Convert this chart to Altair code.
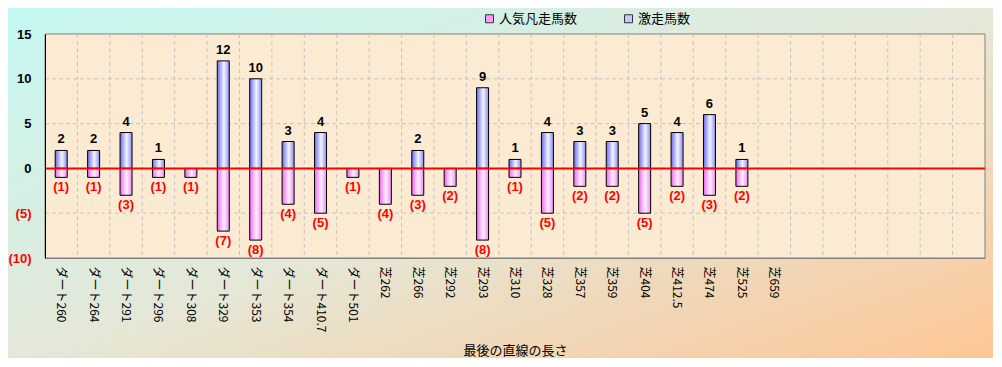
import altair as alt
import pandas as pd

categories = ["ダート260", "ダート264", "ダート291", "ダート296", "ダート308", "ダート329",
              "ダート353", "ダート354", "ダート410.7", "ダート501", "芝262", "芝266",
              "芝292", "芝293", "芝310", "芝328", "芝357", "芝359", "芝404", "芝412.5",
              "芝474", "芝525", "芝659"]
blank_slots = [" " * (i + 1) for i in range(6)]
gekiso = [2, 2, 4, 1, 0, 12, 10, 3, 4, 0, 0, 2, 0, 9, 1, 4, 3, 3, 5, 4, 6, 1, 0]
bonso = [1, 1, 3, 1, 1, 7, 8, 4, 5, 1, 4, 3, 2, 8, 1, 5, 2, 2, 5, 2, 3, 2, 0]
series_names = ["人気凡走馬数", "激走馬数"]
y_ticks = [-10, -5, 0, 5, 10, 15]
grid_y = [-5, 5, 10]

all_cats = categories + blank_slots
df = pd.DataFrame({"cat": categories, "gekiso": gekiso, "bonso": bonso})
df["neg"] = -df["bonso"]
grid_df = pd.DataFrame({"cat": all_cats[1:]})
gridy_df = pd.DataFrame({"v": grid_y})
legend_df = pd.DataFrame({"series": series_names})
one = pd.DataFrame({"a": [0]})

W, H = 940, 224
FONT = "Liberation Sans"
JFONT = "Noto Sans CJK JP"

xscale = alt.Scale(domain=all_cats, paddingInner=0, paddingOuter=0)
yscale = alt.Scale(domain=[-10, 15], nice=False, zero=False)

xaxis = alt.Axis(title="最後の直線の長さ", labelAngle=90, labelFont=JFONT,
                 labelFontSize=12, labelColor="black", labelPadding=8,
                 ticks=False, domainColor="#808080", titleFont=JFONT,
                 titleFontSize=13, titleFontWeight="normal", titleColor="black",
                 titleY=86, zindex=1, grid=False, labelOverlap=False)
yaxis = alt.Axis(values=y_ticks, title=None, ticks=False, labelPadding=14,
                 labelFont=FONT, labelFontSize=13, labelFontWeight="bold",
                 labelColor=alt.expr("datum.value < 0 ? '#FF0000' : 'black'"),
                 labelExpr="datum.value < 0 ? '(' + (-datum.value) + ')' : datum.value",
                 domainColor="black", grid=False, zindex=1)


def X(field):
    return alt.X(field, scale=xscale, sort=all_cats, axis=xaxis)


def Y(field):
    return alt.Y(field, scale=yscale, axis=yaxis)


bg = alt.Chart(one).mark_rect(
    fill=alt.Gradient(gradient="linear", x1=0, y1=0, x2=1, y2=1,
                      stops=[alt.GradientStop(color="#C4F8F2", offset=0),
                             alt.GradientStop(color="#E4E8D8", offset=0.5),
                             alt.GradientStop(color="#FDC696", offset=1)])
).encode(x=alt.value(-37), x2=alt.value(W + 8), y=alt.value(-26), y2=alt.value(H + 100))

plot_bg = alt.Chart(one).mark_rect(fill="#FBEBD2", stroke="#808080", strokeWidth=1).encode(
    x=alt.value(0), x2=alt.value(W), y=alt.value(0), y2=alt.value(H))

vgrid = alt.Chart(grid_df).mark_rule(color="#C4C4C4", strokeDash=[4, 3], strokeWidth=1).encode(
    x=alt.X("cat:N", scale=xscale, sort=all_cats, axis=xaxis, bandPosition=0),
    y=alt.value(0), y2=alt.value(H))

hgrid = alt.Chart(gridy_df).mark_rule(color="#C4C4C4", strokeDash=[4, 3], strokeWidth=1).encode(
    y=Y("v:Q"), x=alt.value(0), x2=alt.value(W))

blue_grad = alt.Gradient(gradient="linear", x1=0, y1=0, x2=1, y2=0,
                         stops=[alt.GradientStop(color="#6A6AEE", offset=0),
                                alt.GradientStop(color="#F4F4FF", offset=0.55),
                                alt.GradientStop(color="#8C8CF2", offset=1)])
pink_grad = alt.Gradient(gradient="linear", x1=0, y1=0, x2=1, y2=0,
                         stops=[alt.GradientStop(color="#EE66EE", offset=0),
                                alt.GradientStop(color="#FFF0FF", offset=0.55),
                                alt.GradientStop(color="#F288F2", offset=1)])

blue = alt.Chart(df).transform_filter("datum.gekiso > 0").mark_bar(
    size=12, fill=blue_grad, stroke="black", strokeWidth=1).encode(
    x=X("cat:N"), y=Y("gekiso:Q"), y2=alt.datum(0))

pink = alt.Chart(df).transform_filter("datum.bonso > 0").mark_bar(
    size=12, fill=pink_grad, stroke="black", strokeWidth=1).encode(
    x=X("cat:N"), y=Y("neg:Q"), y2=alt.datum(0))

zero = alt.Chart(one).mark_rule(color="#FF0000", strokeWidth=2).encode(
    y=Y("a:Q"), x=alt.value(0), x2=alt.value(W))

blue_txt = alt.Chart(df).transform_filter("datum.gekiso > 0").mark_text(
    font=FONT, fontSize=13, fontWeight="bold", color="black", baseline="bottom", dy=-4).encode(
    x=X("cat:N"), y=Y("gekiso:Q"), text="gekiso:Q")

pink_txt = alt.Chart(df).transform_filter("datum.bonso > 0").transform_calculate(
    lbl="'(' + datum.bonso + ')'").mark_text(
    font=FONT, fontSize=13, fontWeight="bold", color="#FF0000", baseline="top", dy=4).encode(
    x=X("cat:N"), y=Y("neg:Q"), text="lbl:N")

legend_layer = alt.Chart(legend_df).mark_point(shape="square", filled=True, size=0, opacity=0).encode(
    x=alt.value(0), y=alt.value(0),
    color=alt.Color("series:N",
                    scale=alt.Scale(domain=series_names, range=["#FF99FF", "#C8C8FF"]),
                    legend=alt.Legend(title=None, orient="none", legendX=438, legendY=-22,
                                      direction="horizontal", columns=2, columnPadding=44,
                                      symbolType="square", symbolSize=64, symbolOpacity=1,
                                      symbolStrokeColor="#333333", symbolStrokeWidth=1,
                                      labelFont=JFONT, labelFontSize=13, labelColor="black",
                                      labelOffset=3)))

chart = alt.layer(bg, plot_bg, vgrid, hgrid, blue, pink, zero, blue_txt, pink_txt, legend_layer).properties(
    width=W, height=H,
    autosize=alt.AutoSizeParams(type="none"),
    padding={"left": 37, "top": 26, "right": 8, "bottom": 100},
).configure_view(stroke=None)

chart.save("out.html", embed_options={"renderer": "svg", "actions": False})
